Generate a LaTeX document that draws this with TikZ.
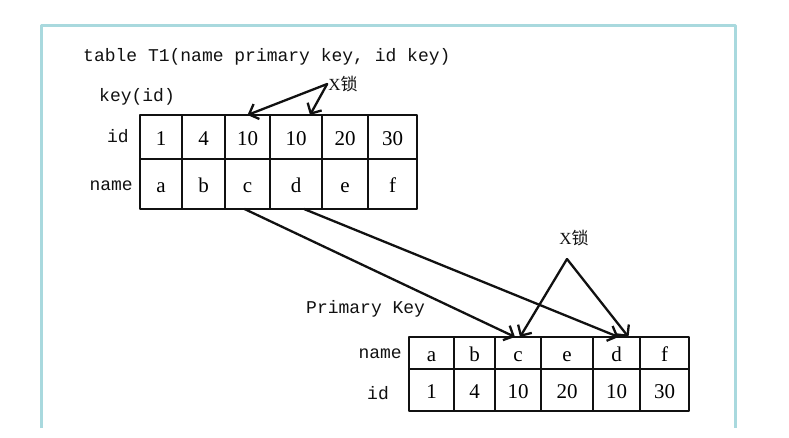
\documentclass[tikz,border=0pt]{standalone}
\usepackage{fontspec}
\setmainfont{Liberation Serif}
\setmonofont{Liberation Mono}
\newfontfamily\cjkfont{Noto Sans CJK SC}
\usetikzlibrary{arrows.meta, positioning}
\definecolor{frameC}{HTML}{A9D9DE}
\definecolor{inkC}{HTML}{111111}
\def\lwGrid{2.8pt}
\def\lwArrow{2.3pt}
\def\lwFrame{3pt}
\def\frameL{41}
\def\frameR{735}
\def\frameT{25}
\def\frameB{428}
\def\keyTop{115}
\def\keyMid{159}
\def\keyBot{209}
\def\pkTop{337}
\def\pkMid{369}
\def\pkBot{411}

\tikzset{
  cell/.style={draw=inkC, line width=\lwGrid, inner sep=0pt, outer sep=0pt,
    text height=18pt, text depth=1pt, font=\fontsize{21}{23}\selectfont},
  lbl/.style={inkC, inner sep=1pt, font=\ttfamily\fontsize{18}{20}\selectfont},
  locklbl/.style={inkC, inner sep=1pt, font=\fontsize{17}{19}\selectfont},
  lockarrow/.style={draw=inkC, line width=\lwArrow, -{Straight Barb[length=8pt, width=16pt]}},
}

\begin{document}
\begin{tikzpicture}[x=1pt, y=-1pt, line cap=round, line join=round]
  \useasboundingbox (0,0) rectangle (789,437);

  % Frame (open at the bottom)
  \draw[frameC, line width=\lwFrame, line cap=butt]
    (\frameL,\frameB) -- (\frameL,\frameT) -- (\frameR,\frameT) -- (\frameR,\frameB);

  % Titles
  \node[lbl, anchor=west] (title) at (82,57) {table T1(name primary key, id key)};
  \node[lbl, anchor=west] (keylbl) at (98,97) {key(id)};

  % Secondary index key(id)
  \foreach \xl/\xr/\idv/\namev [count=\n] in
    {140/182/1/a, 182/225/4/b, 225/270/10/c, 270/322/10/d, 322/368/20/e, 368/417/30/f} {
    \node[cell, minimum width={(\xr-\xl)*1pt}, minimum height={(\keyMid-\keyTop)*1pt}]
      (kid\n) at ({(\xl+\xr)/2}, {(\keyTop+\keyMid)/2}) {\idv};
    \node[cell, minimum width={(\xr-\xl)*1pt}, minimum height={(\keyBot-\keyMid)*1pt}]
      (kname\n) at ({(\xl+\xr)/2}, {(\keyMid+\keyBot)/2}) {\namev};
  }
  \node[lbl, anchor=east] (kidlbl) at (130,136) {id};
  \node[lbl, anchor=east] (knamelbl) at (134,186) {name};

  % Primary key index
  \node[lbl, anchor=west] (pklbl) at (305,309) {Primary Key};
  \foreach \xl/\xr/\namev/\idv [count=\n] in
    {409/454/a/1, 454/495/b/4, 495/541/c/10, 541/593/e/20, 593/640/d/10, 640/689/f/30} {
    \node[cell, minimum width={(\xr-\xl)*1pt}, minimum height={(\pkMid-\pkTop)*1pt}]
      (pname\n) at ({(\xl+\xr)/2}, {(\pkTop+\pkMid)/2}) {\namev};
    \node[cell, minimum width={(\xr-\xl)*1pt}, minimum height={(\pkBot-\pkMid)*1pt}]
      (pid\n) at ({(\xl+\xr)/2}, {(\pkMid+\pkBot)/2}) {\idv};
  }
  \node[lbl, anchor=east] (pnamelbl) at (403,354) {name};
  \node[lbl, anchor=east] (pidlbl) at (390,393) {id};

  % X locks
  \node[locklbl] (lockA) at (343,84) {X{\cjkfont 锁}};
  \node[locklbl] (lockB) at (574,238) {X{\cjkfont 锁}};
  \coordinate (lockBtip) at (567,259);

  \draw[lockarrow] (lockA.west) -- (kid3.north);
  \draw[lockarrow] (lockA.west) -- ([xshift=14pt]kid4.north);
  \draw[lockarrow] (lockBtip) -- ([xshift=2pt]pname3.north);
  \draw[lockarrow] (lockBtip) -- ([xshift=12pt]pname5.north);

  % Lookup from key(id) to primary key
  \draw[lockarrow] ([xshift=-3pt]kname3.south) -- ([xshift=-3pt]pname3.north);
  \draw[lockarrow] ([xshift=8pt]kname4.south) -- ([xshift=2pt]pname5.north);
\end{tikzpicture}
\end{document}
